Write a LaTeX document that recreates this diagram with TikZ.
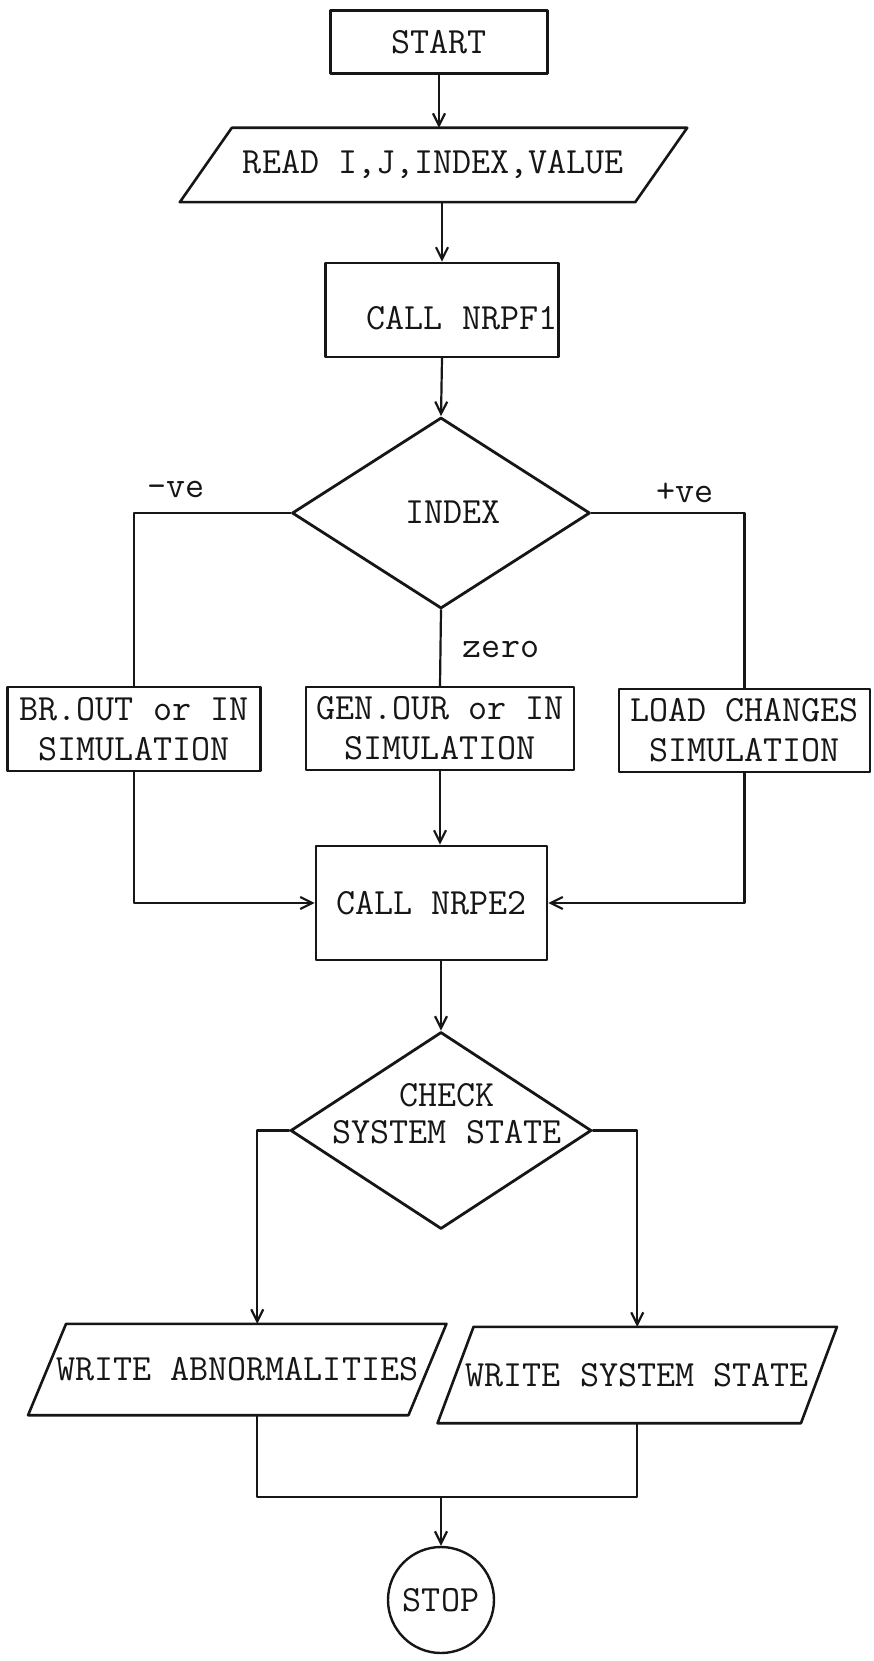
\documentclass[tikz,border=0pt]{standalone}
\usepackage{fontspec}
\usetikzlibrary{arrows.meta,calc,shapes.geometric}
\definecolor{fcInk}{HTML}{161616}
\newcommand{\tw}{\fontsize{37}{40}\selectfont\ttfamily}
\tikzset{
 chart/.style={line cap=round,line join=round,text=fcInk,font=\tw},
 txt/.style={inner sep=0pt,align=center},
 proc/.style={rectangle,draw=fcInk,line width=2.6pt,inner sep=0pt,align=center},
 iobox/.style={rectangle,inner sep=0pt,align=center},
 decide/.style={diamond,draw=fcInk,line width=2.8pt,inner sep=0pt},
 term/.style={circle,draw=fcInk,line width=2.4pt,inner sep=0pt,minimum size=106pt},
 frame/.style={draw=fcInk,line width=2.6pt},
 link/.style={draw=fcInk,line width=2.2pt},
 flow/.style={link,-{Straight Barb[length=12pt,width=12pt]}}
}
\newcommand{\slantframe}[2]{%
 \draw[frame] ($(#1.north west)+(#2,0)$) -- ($(#1.north east)+(#2,0)$)
   -- ($(#1.south east)-(#2,0)$) -- ($(#1.south west)-(#2,0)$) -- cycle;}

\begin{document}
\begin{tikzpicture}[chart,x=1pt,y=-1pt]
 \path[fill=white] (0,0) rectangle (873,1661);
 \useasboundingbox (0,0) rectangle (873,1661);
 % main column
 \node[proc,minimum width=217pt,minimum height=63pt] (start) at (439,42) {START};
 \node[iobox,minimum width=455pt,minimum height=74pt] (read) at (433.5,165) {READ I,J,INDEX,VALUE};
 \slantframe{read}{26}
 \node[proc,minimum width=233pt,minimum height=94pt] (nrpf1) at (442,310) {};
 \node[txt] (nrpf1-t) at (462,318) {CALL NRPF1};
 \node[decide,minimum width=298pt,minimum height=191pt] (index) at (441,513) {};
 \node[txt] (index-t) at (453,512) {INDEX};
 % three branches
 \node[proc,minimum width=253pt,minimum height=84pt] (br) at (134,729) {BR.OUT or IN\\SIMULATION};
 \node[proc,minimum width=268pt,minimum height=83pt] (gen) at (440,728.5) {GEN.OUR or IN\\SIMULATION};
 \node[proc,minimum width=251pt,minimum height=83pt] (load) at (744.5,730.5) {LOAD CHANGES\\SIMULATION};
 \node[proc,minimum width=231pt,minimum height=114pt] (nrpe2) at (431.5,903) {CALL NRPE2};
 \node[decide,minimum width=301pt,minimum height=197pt] (check) at (441,1130.5) {};
 \node[txt] (check-t) at (447,1114) {CHECK\\[-3pt]SYSTEM STATE};
 % outputs
 \node[iobox,minimum width=380pt,minimum height=91pt] (abn) at (237.25,1369.5) {WRITE ABNORMALITIES};
 \slantframe{abn}{19}
 \node[iobox,minimum width=363pt,minimum height=96pt] (sys) at (637.25,1375) {WRITE SYSTEM STATE};
 \slantframe{sys}{18}
 \node[term] (stop) at (441,1600) {STOP};
 \coordinate (join) at (441,1497);
 % connectors
 \draw[flow] (start.south) -- (start.south |- read.north);
 \draw[flow] (nrpf1.north |- read.south) -- (nrpf1.north);
 \draw[flow] (nrpf1.south) -- (index.north);
 \draw[link] (index.west) -| (br.north);
 \draw[link] (index.east) -| (load.north);
 \draw[link] (index.south) -- (gen.north);
 \node[txt] (neg) at (176,489) {-ve};
 \node[txt] (pos) at (685,493) {+ve};
 \node[txt] (zero) at (501,649) {zero};
 \draw[flow] (br.south) |- (nrpe2.west);
 \draw[flow] (gen.south) -- (gen.south |- nrpe2.north);
 \draw[flow] (load.south) |- (nrpe2.east);
 \draw[flow] (nrpe2.south -| check.north) -- (check.north);
 \draw[flow] (check.west) -| ([xshift=20pt]abn.north);
 \draw[flow] (check.east) -| (sys.north);
 \draw[link] ([xshift=20pt]abn.south) |- (join) -| (sys.south);
 \draw[flow] (join) -- (stop.north);
\end{tikzpicture}
\end{document}
